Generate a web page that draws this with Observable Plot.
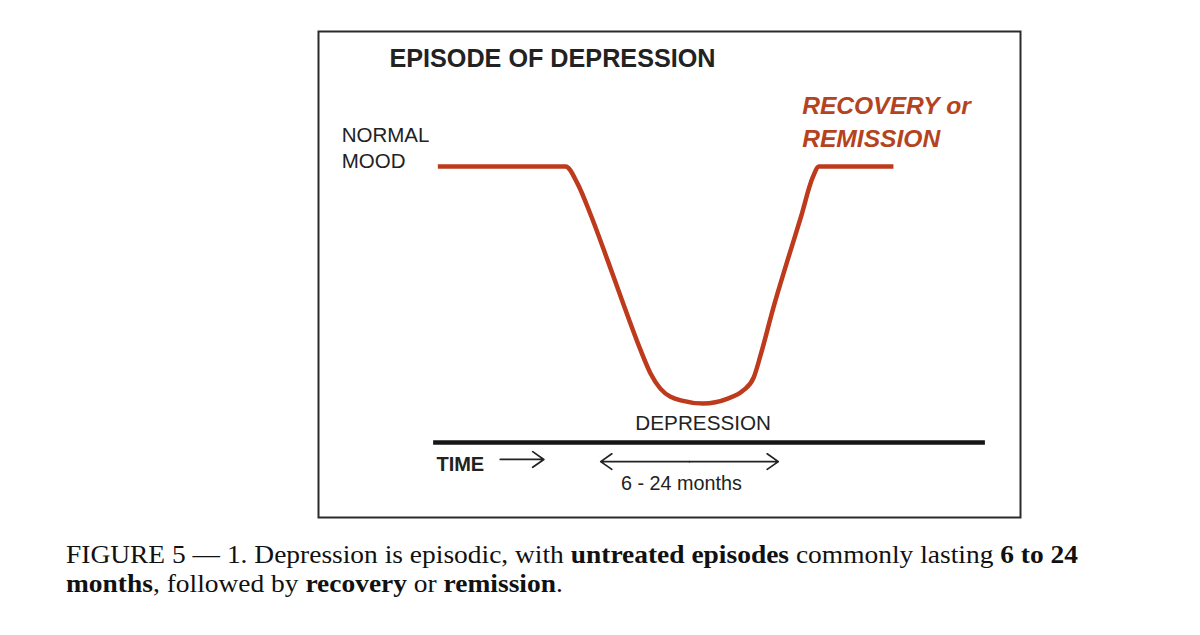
<!DOCTYPE html>
<html>
<head>
<meta charset="utf-8">
<script src="https://cdn.jsdelivr.net/npm/d3@7"></script>
<script src="https://cdn.jsdelivr.net/npm/@observablehq/plot@0.6"></script>
<style>
  html, body { margin: 0; padding: 0; background: #fff; }
  #wrap { position: relative; width: 1200px; height: 635px; }
  #cap {
    position: absolute; left: 66px; top: 540px;
    font-family: "Liberation Serif", "Times New Roman", serif;
    font-size: 26px; line-height: 29px; color: #111;
    white-space: nowrap; transform-origin: 0 0;
  }
  #cap b { font-weight: bold; }
</style>
</head>
<body>
<div id="wrap">
  <div id="chart"></div>
  <div id="cap"><span id="l1">FIGURE 5 — 1. Depression is episodic, with <b>untreated episodes</b> commonly lasting <b>6 to 24</b></span><br><b>months</b>, followed by <b>recovery</b> or <b>remission</b>.</div>
</div>
<script>
// Mood over time (arbitrary time units 0–100; mood: 100 = normal, 0 = depths of depression)
const time = [17.0, 35.2, 36.9, 38.7, 41.2, 43.4, 45.9, 47.3, 48.7, 51.6, 54.8, 58.3, 60.5, 62.0, 63.0, 64.8, 66.8, 68.7, 70.4, 71.3, 81.9];
const mood = [100, 100, 92.8, 80.2, 60.3, 42.2, 22.4, 12.7, 6.3, 1.3, 0, 2.1, 5.5, 11.0, 20.7, 40.5, 60.3, 78.5, 95.4, 100, 100];

// Time axis extent and annotation texts
const timeAxis = {start: 16.4, end: 95.0, level: -16.5};
const title = "EPISODE OF DEPRESSION";
const normalLabel = "NORMAL\nMOOD";
const recoveryLabel = "RECOVERY or\nREMISSION";
const depressionLabel = "DEPRESSION";
const timeLabel = "TIME";
const durationLabel = "6 - 24 months";

const curve = time.map((t, i) => ({time: t, mood: mood[i]}));

const red = "#bd3b1c";
const redText = "#b5431e";
const ink = "#222";

const chart = Plot.plot({
  width: 1200,
  height: 535,
  marginLeft: 318,
  marginRight: 180,
  marginTop: 31,
  marginBottom: 18,
  x: {domain: [0, 100], axis: null},
  y: {domain: [-48.1, 157], axis: null},
  style: {fontFamily: "'Liberation Sans', Arial, Helvetica, sans-serif", background: "#fff"},
  marks: [
    Plot.frame({stroke: "#2b2b2b", strokeWidth: 2}),
    Plot.line(curve, {x: "time", y: "mood", stroke: red, strokeWidth: 4.5, curve: "monotone-x", strokeLinecap: "butt"}),
    Plot.ruleY([timeAxis.level], {x1: timeAxis.start, x2: timeAxis.end, stroke: "#161616", strokeWidth: 4.5}),
    Plot.text([title], {x: 10.1, y: 142.2, text: d => d, textAnchor: "start", lineAnchor: "bottom", fontSize: 25.2, fontWeight: "bold", fill: ink}),
    Plot.text([normalLabel], {x: 3.3, y: 99.2, text: d => d, textAnchor: "start", lineAnchor: "bottom", lineHeight: 1.28, fontSize: 20.5, fill: ink}),
    Plot.text([recoveryLabel], {x: 68.9, y: 108.2, text: d => d, textAnchor: "start", lineAnchor: "bottom", lineHeight: 1.33, fontSize: 24.6, fontWeight: "bold", fontStyle: "italic", fill: redText}),
    Plot.text([depressionLabel], {x: 54.8, y: -11.0, text: d => d, textAnchor: "middle", lineAnchor: "bottom", fontSize: 20.7, fill: ink}),
    Plot.text([timeLabel], {x: 16.8, y: -28.3, text: d => d, textAnchor: "start", lineAnchor: "bottom", fontSize: 20, fontWeight: "bold", fill: ink}),
    Plot.arrow([{x1: 25.9, x2: 32.1, y: -23.6}], {x1: "x1", x2: "x2", y1: "y", y2: "y", stroke: ink, strokeWidth: 1.7, headLength: 12, headAngle: 70}),
    Plot.arrow([{x1: 52.85, x2: 40.2, y: -24.5}, {x1: 52.85, x2: 65.5, y: -24.5}], {x1: "x1", x2: "x2", y1: "y", y2: "y", stroke: ink, strokeWidth: 1.7, headLength: 12, headAngle: 70}),
    Plot.text([durationLabel], {x: 51.7, y: -36.7, text: d => d, textAnchor: "middle", lineAnchor: "bottom", fontSize: 19.8, fill: ink})
  ]
});
document.getElementById("chart").appendChild(chart);

// Fit caption's first line to the original width (it is horizontally condensed)
const l1 = document.getElementById("l1");
const w = l1.getBoundingClientRect().width;
document.getElementById("cap").style.transform = `scaleX(${1012 / w})`;
</script>
</body>
</html>
